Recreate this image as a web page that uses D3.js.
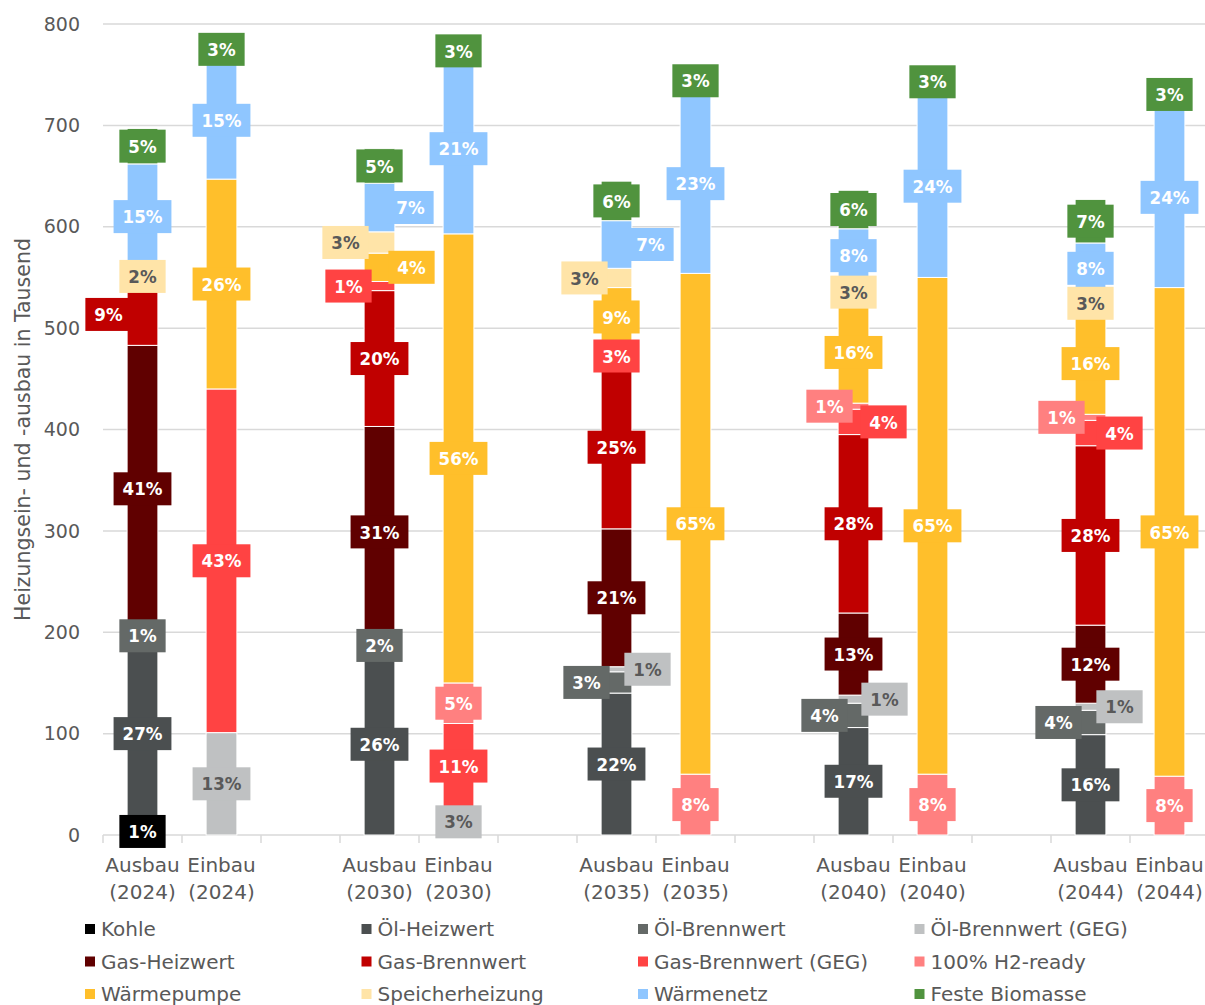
<!DOCTYPE html>
<html>
<head>
<meta charset="utf-8">
<script src="https://cdn.jsdelivr.net/npm/d3@7"></script>
<style>
  body { margin: 0; background: #fff; }
  svg text { font-family: "DejaVu Sans", sans-serif; }
</style>
</head>
<body>
<div id="chart"></div>
<script>
// bars in order: Ausbau/Einbau per year
var years = ["2024", "2030", "2035", "2040", "2044"];
var kinds = ["Ausbau", "Einbau"];
var yTicks = [0, 100, 200, 300, 400, 500, 600, 700, 800];

// values in Tausend, one entry per bar (A24,E24,A30,E30,A35,E35,A40,E40,A44,E44)
var kohle        = [7,   0,   0,   0,   0,   0,   0,   0,   0,   0];
var oelHeizwert  = [186, 0,   179, 0,   140, 0,   106, 0,   99,  0];
var oelBrennwert = [7,   0,   16,  0,   21,  0,   24,  0,   24,  0];
var oelGEG       = [0,   101, 0,   26,  5,   0,   8,   0,   7,   0];
var gasHeizwert  = [283, 0,   208, 0,   136, 0,   81,  0,   77,  0];
var gasBrennwert = [61,  0,   134, 0,   161, 0,   176, 0,   177, 0];
var gasGEG       = [0,   339, 9,   84,  19,  0,   25,  0,   25,  0];
var h2ready      = [0,   0,   0,   40,  0,   60,  6,   60,  6,   58];
var waermepumpe  = [0,   207, 28,  443, 58,  494, 100, 490, 100, 482];
var speicher     = [14,  0,   21,  0,   19,  0,   19,  0,   19,  0];
var waermenetz   = [104, 116, 48,  168, 47,  177, 53,  180, 50,  178];
var biomasse     = [35,  24,  34,  25,  39,  26,  38,  26,  43,  25];

var seriesNames = ["Kohle", "Öl-Heizwert", "Öl-Brennwert", "Öl-Brennwert (GEG)",
    "Gas-Heizwert", "Gas-Brennwert", "Gas-Brennwert (GEG)", "100% H2-ready",
    "Wärmepumpe", "Speicherheizung", "Wärmenetz", "Feste Biomasse"];
var seriesValues = [kohle, oelHeizwert, oelBrennwert, oelGEG, gasHeizwert, gasBrennwert,
    gasGEG, h2ready, waermepumpe, speicher, waermenetz, biomasse];
var colors = ["#000000", "#4b4f50", "#646967", "#bfc1c2", "#600000", "#c00000",
    "#ff4343", "#ff8080", "#ffbf2b", "#ffe4a8", "#8fc6ff", "#50933e"];
var darkText = { 3: true, 9: true };

// manual label nudges (px) for small segments, "bar-series"
var labelNudge = {
    "0-5": -34,
    "2-9": -34, "2-10": 31, "2-8": 32, "2-6": -31,
    "4-9": -32, "4-10": 34, "4-2": -30, "4-3": 31,
    "6-7": -24, "6-6": 30, "6-2": -29, "6-3": 31,
    "8-7": -29, "8-6": 29, "8-2": -32, "8-3": 29
};

var width = 1205, height = 1005;
var margin = { top: 24, bottom: 170, left: 103 };
var y0 = height - margin.bottom; // 835

var svg = d3.select("#chart").append("svg")
    .attr("width", width).attr("height", height);

// slots: Ausbau, Einbau, gap for every year
var bars = [];
var slots = [];
years.forEach(function(yr, i) {
    kinds.forEach(function(k) {
        bars.push(k + " " + yr);
        slots.push(k + " " + yr);
    });
    if (i < years.length - 1) slots.push("gap" + i);
});

var x = d3.scaleBand().domain(slots).range([margin.left, margin.left + 14 * 79])
    .paddingInner(0.61).paddingOuter(0.305);
var y = d3.scaleLinear().domain([0, 800]).range([y0, margin.top]);

// grid
svg.append("g").selectAll("line").data(yTicks.slice(1)).enter().append("line")
    .attr("x1", margin.left).attr("x2", width)
    .attr("y1", function(d) { return y(d); }).attr("y2", function(d) { return y(d); })
    .attr("stroke", "#d9d9d9").attr("stroke-width", 1.5);

// y tick labels
svg.append("g").selectAll("text").data(yTicks).enter().append("text")
    .attr("x", 80).attr("y", function(d) { return y(d); })
    .attr("dy", "0.35em").attr("text-anchor", "end")
    .attr("font-size", 19).attr("fill", "#595959")
    .text(function(d) { return d; });

svg.append("text")
    .attr("transform", "translate(23," + ((y0 + margin.top) / 2) + ") rotate(-90)")
    .attr("dy", "0.35em")
    .attr("text-anchor", "middle").attr("font-size", 20.5).attr("fill", "#595959")
    .text("Heizungsein- und -ausbau in Tausend");

// baseline + ticks at slot boundaries
svg.append("line").attr("x1", margin.left).attr("x2", width)
    .attr("y1", y0).attr("y2", y0).attr("stroke", "#d9d9d9").attr("stroke-width", 1.5);
var step = x.step();
svg.append("g").selectAll("line").data(d3.range(slots.length)).enter().append("line")
    .attr("x1", function(i) { return x.range()[0] + i * step; })
    .attr("x2", function(i) { return x.range()[0] + i * step; })
    .attr("y1", y0).attr("y2", y0 + 8)
    .attr("stroke", "#d9d9d9").attr("stroke-width", 1.5);

// x labels
var xl = svg.append("g").selectAll("text").data(bars).enter().append("text")
    .attr("text-anchor", "middle").attr("font-size", 20).attr("fill", "#595959")
    .attr("x", function(d) { return x(d) + x.bandwidth() / 2; })
    .attr("y", 872);
xl.append("tspan").text(function(d) { return d.split(" ")[0]; });
xl.append("tspan").attr("x", function(d) { return x(d) + x.bandwidth() / 2; })
    .attr("dy", 27).text(function(d) { return "(" + d.split(" ")[1] + ")"; });

// stacked data
var rows = bars.map(function(b, i) {
    var r = { bar: b, idx: i };
    seriesNames.forEach(function(s, j) { r[s] = seriesValues[j][i]; });
    r.total = d3.sum(seriesValues, function(v) { return v[i]; });
    return r;
});
var stack = d3.stack().keys(seriesNames)(rows);

var segs = svg.append("g");
stack.forEach(function(layer, j) {
    segs.append("g").attr("fill", colors[j]).selectAll("rect")
        .data(layer.filter(function(d) { return d[1] > d[0]; })).enter().append("rect")
        .attr("x", function(d) { return x(d.data.bar); })
        .attr("width", x.bandwidth())
        .attr("y", function(d) { return y(d[1]); })
        .attr("height", function(d) { return y(d[0]) - y(d[1]); })
        .attr("stroke", "#fff").attr("stroke-width", 1);
});

// labels
var lab = svg.append("g");
stack.forEach(function(layer, j) {
    layer.forEach(function(d) {
        var v = d[1] - d[0];
        var pct = Math.round(v / d.data.total * 100);
        if (v <= 0 || pct < 1) return;
        var txt = pct + "%";
        var cx = x(d.data.bar) + x.bandwidth() / 2 + (labelNudge[d.data.idx + "-" + j] || 0);
        var cy = y((d[0] + d[1]) / 2);
        var g = lab.append("g");
        var t = g.append("text").attr("x", cx).attr("y", cy).attr("dy", "0.36em")
            .attr("text-anchor", "middle").attr("font-size", 18.5).attr("font-weight", "bold")
            .style("font-family", "'DejaVu Sans Condensed', 'DejaVu Sans', sans-serif")
            .attr("fill", darkText[j] ? "#595959" : "#fff").text(txt);
        var w = t.node().getComputedTextLength() + 18;
        g.insert("rect", "text").attr("x", cx - w / 2).attr("y", cy - 16.5)
            .attr("width", w).attr("height", 33).attr("fill", colors[j]);
    });
});

// legend
var leg = svg.append("g").selectAll("g").data(seriesNames).enter().append("g")
    .attr("transform", function(d, i) {
        return "translate(" + (85 + (i % 4) * 276.5) + "," + (929 + Math.floor(i / 4) * 32.5) + ")";
    });
leg.append("rect").attr("x", 0).attr("y", -5).attr("width", 10).attr("height", 10)
    .attr("fill", function(d, i) { return colors[i]; });
leg.append("text").attr("x", 16).attr("dy", "0.36em").attr("font-size", 20)
    .attr("fill", "#595959").text(function(d) { return d; });
</script>
</body>
</html>
